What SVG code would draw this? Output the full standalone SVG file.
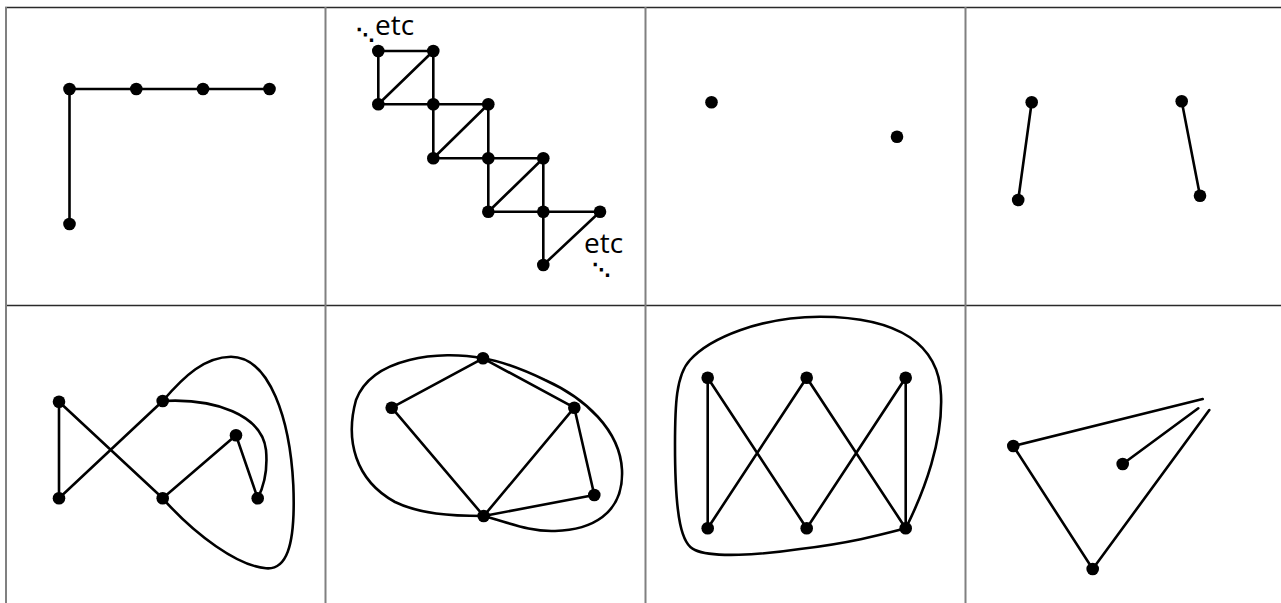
<svg xmlns="http://www.w3.org/2000/svg" width="1281" height="603" viewBox="0 0 1281 603">
<style>
.hl{stroke:#2a2a2a;stroke-width:1.5;fill:none}
.vl{stroke:#808080;stroke-width:2;fill:none}
.e{stroke:#000;stroke-width:2.6;fill:none;stroke-linecap:round}
.n{fill:#000}
.t{font-family:"Open Sans","DejaVu Sans",sans-serif;font-size:28px;fill:#000}
.d{font-family:"DejaVu Sans",sans-serif;font-size:18px;font-weight:bold}
</style>
<rect width="1281" height="603" fill="#fff"/>
<g id="grid">
<line class="hl" x1="5" y1="7.5" x2="1281" y2="7.5"/>
<line class="hl" x1="5" y1="305.5" x2="1281" y2="305.5"/>
<line class="vl" x1="6" y1="7" x2="6" y2="603"/>
<line class="vl" x1="325.5" y1="7" x2="325.5" y2="603"/>
<line class="vl" x1="645.5" y1="7" x2="645.5" y2="603"/>
<line class="vl" x1="965.5" y1="7" x2="965.5" y2="603"/>
</g>
<g id="connectors">
<path class="e" d="M69.5,224 L69.5,89 L269.5,89"/>
<path class="e" d="M378.3,51 H433.3 V104.3 H378.3 Z M378.3,104.3 L433.3,51"/>
<path class="e" d="M433.3,104.3 H488.3 V158.3 H433.3 Z M433.3,158.3 L488.3,104.3"/>
<path class="e" d="M488.3,158.3 H543.3 V211.7 H488.3 Z M488.3,211.7 L543.3,158.3"/>
<path class="e" d="M543.3,211.7 H600 L543.3,265 Z"/>
<path class="e" d="M1031.7,102.3 L1018.2,200 M1181.7,101.3 L1200,195.7"/>
<path class="e" d="M59,401.7 L59,498.3 L162.7,401 M59,401.7 L162.7,498.3 L236,435.3 L257.7,498.3"/>
<path class="e" d="M162.7,401 C215,398 262,415 266,450 C268,472 264,486 257.7,498.3"/>
<path class="e" d="M162.7,401 C185,375 205,357 231,356.7 C270,357 290,420 293.3,485 C296,550 285,570 266,568.3 C238,566 195,535 162.7,498.3"/>
<path class="e" d="M483,358.3 L391.7,407.7 L483.7,516 L574.3,407.7 L483,358.3 M574.3,407.7 L594.3,495 L483.7,516"/>
<path class="e" d="M483,358.3 C440,350 372,357 356,400 C345,440 355,480 395,502 C420,514 450,516 483.7,516 C510,523 530,532 555,531 C590,530 624,515 622,470 C620,430 585,398 545,380 C522,369 500,361 483,358.3 Z"/>
<path class="e" d="M707.7,377.7 L707.7,528.3 L806.7,377.7 L905.7,528.3 L905.7,377.7 L806.7,528.3 L707.7,377.7"/>
<path class="e" d="M905.7,528.3 C925,490 943,440 941,395 C939,345 900,317 820,316.7 C760,317 710,338 690,360 C676,375 675,405 675,445 C675,520 682,545 695,550 C712,558 760,555 800,549 C850,543 880,535 905.7,528.3 Z"/>
<path class="e" d="M1202.7,399 L1013.3,446 L1092.7,569 L1209.3,410 M1122.7,464 L1198.3,408.3"/>
</g>
<g id="c1-nodes">
<circle class="n" cx="69.5" cy="89" r="6.3"/><circle class="n" cx="136.3" cy="89" r="6.3"/><circle class="n" cx="203" cy="89" r="6.3"/><circle class="n" cx="269.5" cy="89" r="6.3"/><circle class="n" cx="69.5" cy="224" r="6.3"/>
</g>
<g id="c2-nodes">
<circle class="n" cx="378.3" cy="51" r="6.3"/><circle class="n" cx="433.3" cy="51" r="6.3"/><circle class="n" cx="378.3" cy="104.3" r="6.3"/><circle class="n" cx="433.3" cy="104.3" r="6.3"/><circle class="n" cx="488.3" cy="104.3" r="6.3"/><circle class="n" cx="433.3" cy="158.3" r="6.3"/><circle class="n" cx="488.3" cy="158.3" r="6.3"/><circle class="n" cx="543.3" cy="158.3" r="6.3"/><circle class="n" cx="488.3" cy="211.7" r="6.3"/><circle class="n" cx="543.3" cy="211.7" r="6.3"/><circle class="n" cx="600" cy="211.7" r="6.3"/><circle class="n" cx="543.3" cy="265" r="6.3"/>
<text class="t"><tspan class="d" x="356" y="41">⋱</tspan><tspan x="375" y="35">etc</tspan></text>
<text class="t"><tspan x="584" y="253">etc</tspan><tspan class="d" x="592" y="276">⋱</tspan></text>
</g>
<g id="c3-nodes">
<circle class="n" cx="711.5" cy="102.3" r="6.3"/><circle class="n" cx="897" cy="136.7" r="6.3"/>
</g>
<g id="c4-nodes">
<circle class="n" cx="1031.7" cy="102.3" r="6.3"/><circle class="n" cx="1018.2" cy="200" r="6.3"/><circle class="n" cx="1181.7" cy="101.3" r="6.3"/><circle class="n" cx="1200" cy="195.7" r="6.3"/>
</g>
<g id="c5-nodes">
<circle class="n" cx="59" cy="401.7" r="6.3"/><circle class="n" cx="59" cy="498.3" r="6.3"/><circle class="n" cx="162.7" cy="401" r="6.3"/><circle class="n" cx="162.7" cy="498.3" r="6.3"/><circle class="n" cx="236" cy="435.3" r="6.3"/><circle class="n" cx="257.7" cy="498.3" r="6.3"/>
</g>
<g id="c6-nodes">
<circle class="n" cx="483" cy="358.3" r="6.3"/><circle class="n" cx="391.7" cy="407.7" r="6.3"/><circle class="n" cx="574.3" cy="407.7" r="6.3"/><circle class="n" cx="594.3" cy="495" r="6.3"/><circle class="n" cx="483.7" cy="516" r="6.3"/>
</g>
<g id="c7-nodes">
<circle class="n" cx="707.7" cy="377.7" r="6.3"/><circle class="n" cx="806.7" cy="377.7" r="6.3"/><circle class="n" cx="905.7" cy="377.7" r="6.3"/><circle class="n" cx="707.7" cy="528.3" r="6.3"/><circle class="n" cx="806.7" cy="528.3" r="6.3"/><circle class="n" cx="905.7" cy="528.3" r="6.3"/>
</g>
<g id="c8-nodes">
<circle class="n" cx="1013.3" cy="446" r="6.3"/><circle class="n" cx="1122.7" cy="464" r="6.3"/><circle class="n" cx="1092.7" cy="569" r="6.3"/>
</g>
</svg>
